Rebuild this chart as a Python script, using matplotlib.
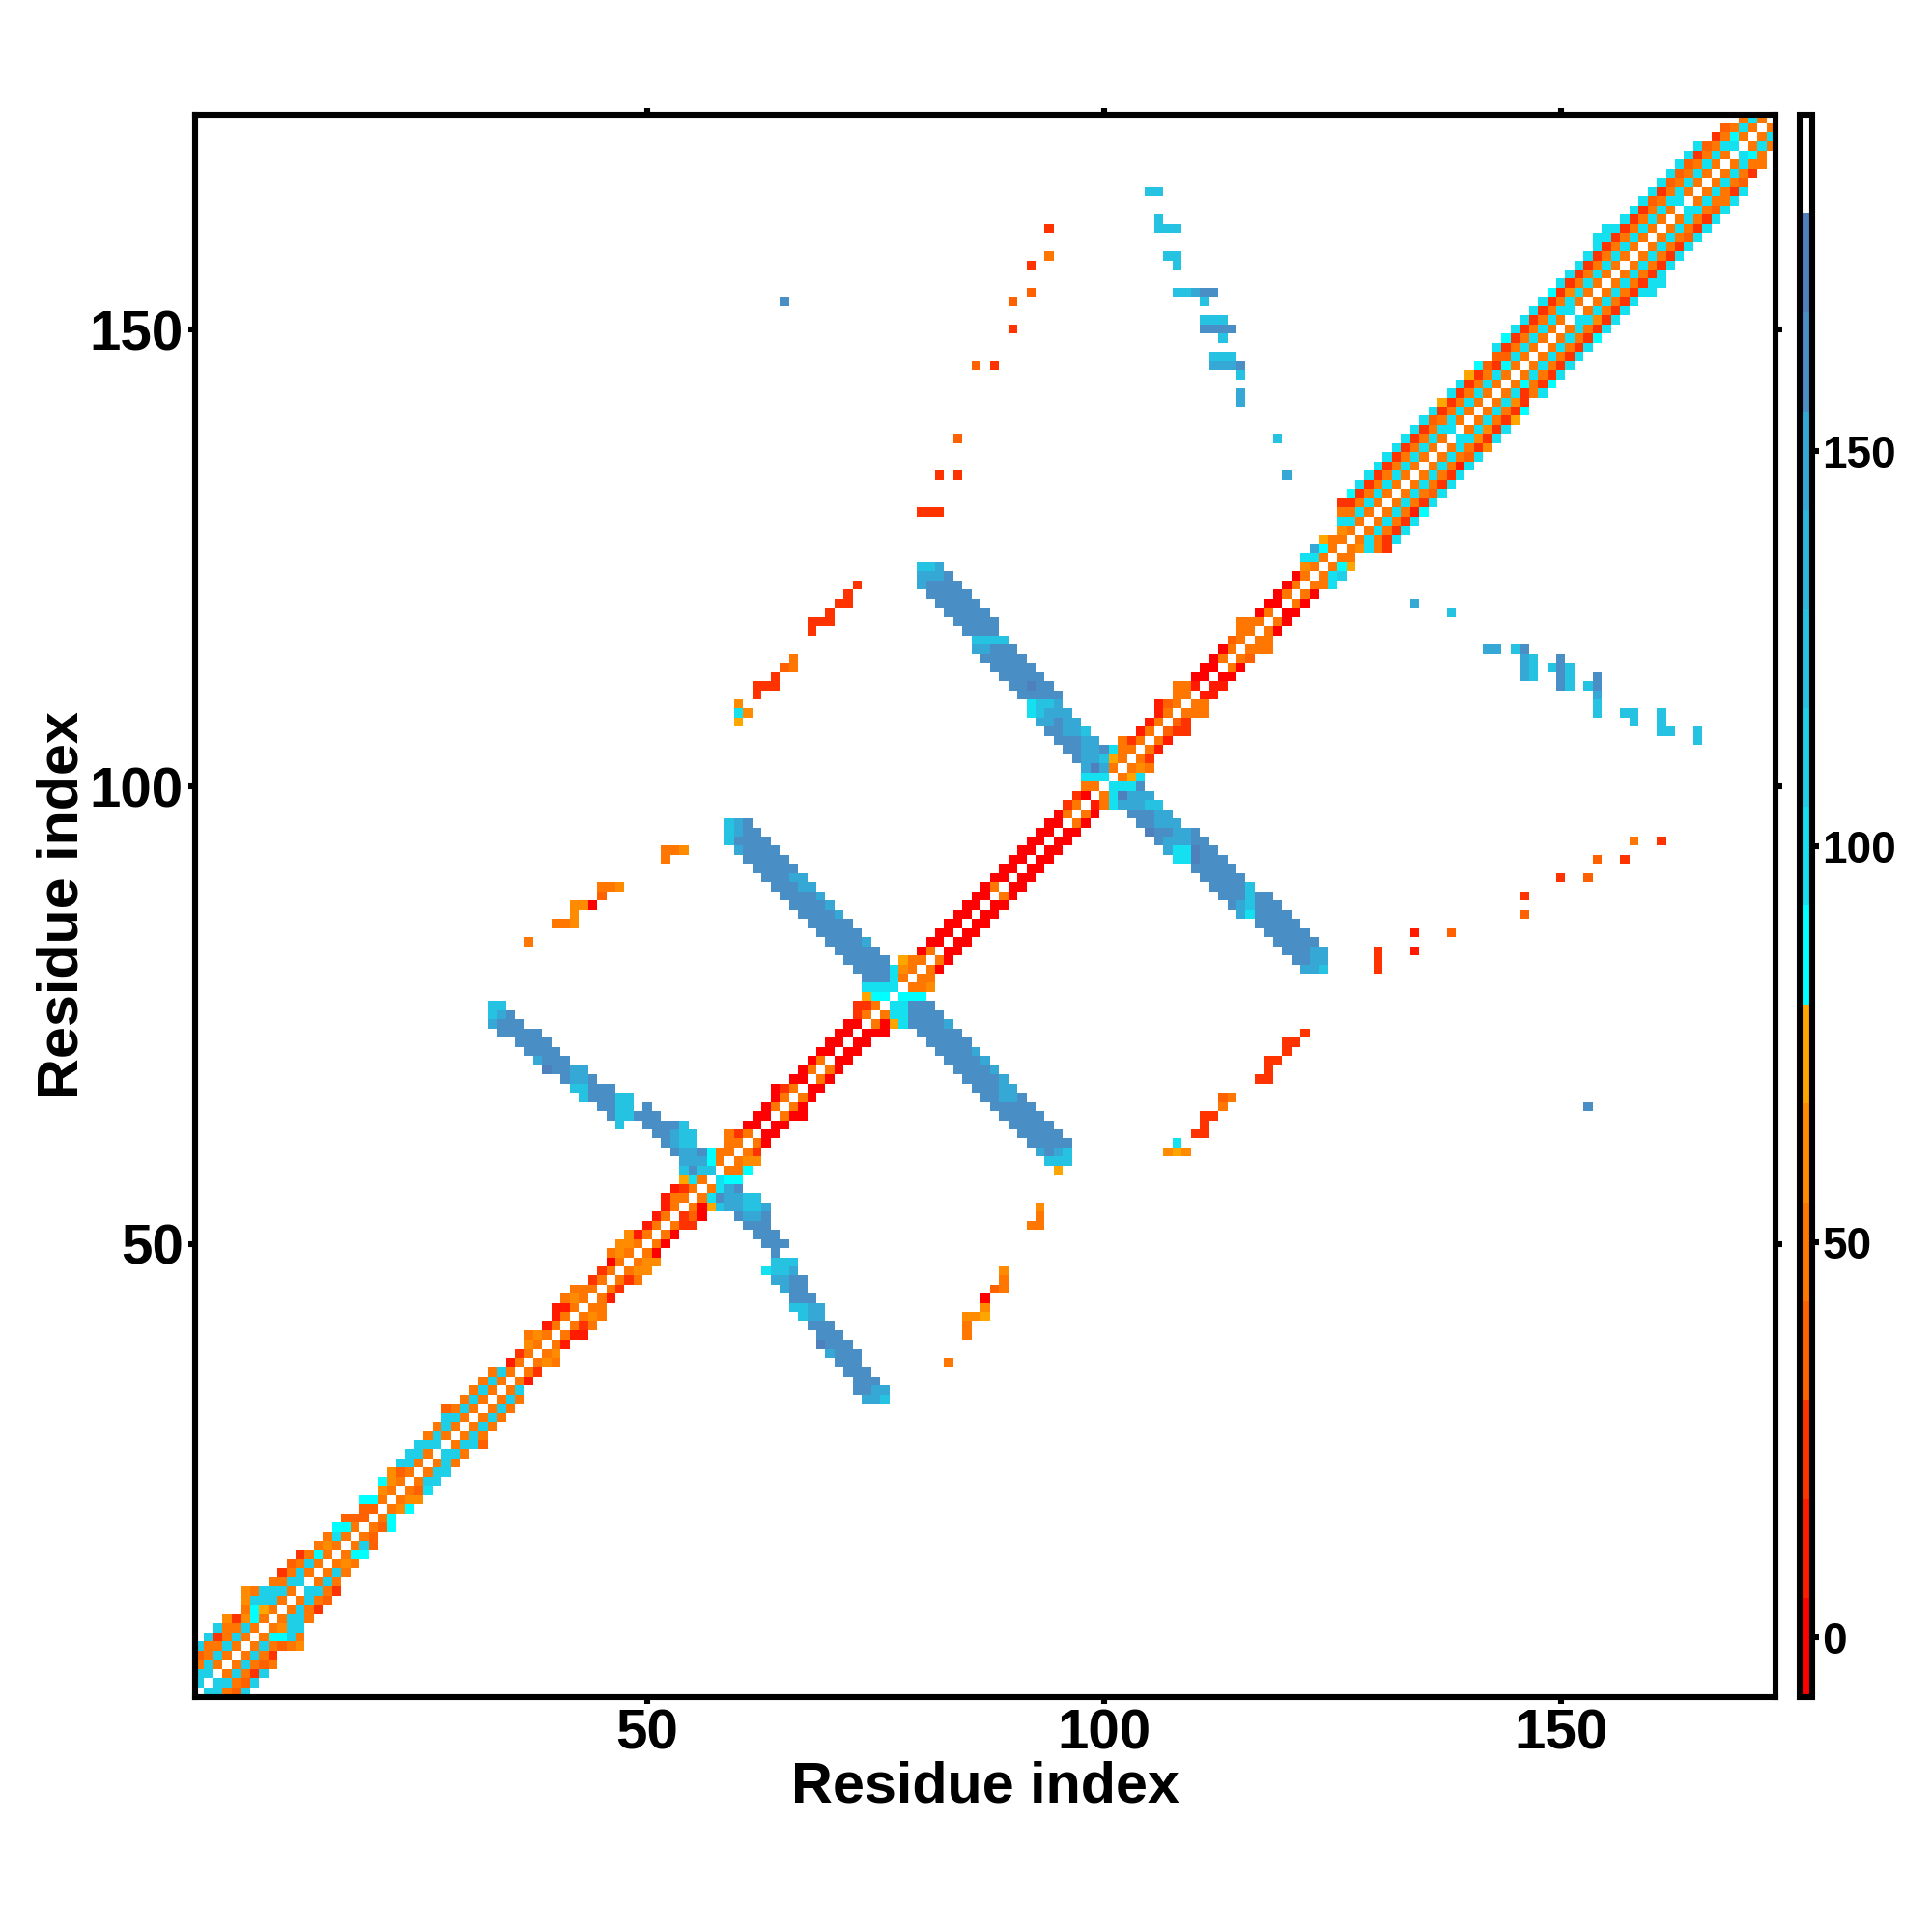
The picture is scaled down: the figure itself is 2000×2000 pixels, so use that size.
import numpy as np
import matplotlib
matplotlib.use("Agg")
import matplotlib.pyplot as plt
from matplotlib.colors import ListedColormap, BoundaryNorm
from matplotlib.cm import ScalarMappable

plt.rcParams['font.family'] = ['Liberation Sans', 'DejaVu Sans']
plt.rcParams['font.weight'] = 'bold'

# value shorthands read against the colour bar
R, r, s, o, a, m, y = 0, 10, 25, 35, 50, 60, 75
c, C, D, k, l, b, d, W = 85, 98, 110, 125, 148, 160, 172, 186

n_res = 173
bar_edges = [-7.5, 5, 17.5, 30, 42.5, 55, 67.5, 80, 92.5, 105, 117.5, 130, 142.5, 155, 167.5, 180, 192.5]
bar_colors = ['#ff0000', '#ff1a00', '#ff3300', '#ff6000', '#ff7700', '#ff8c00', '#ffa500',
              '#00ffff', '#14e0f0', '#1fcfe8', '#26c2e2', '#2db5dc', '#35a8d5', '#4a8ec6', '#4e80be',
              '#ffffff']
ticks = [50, 100, 150]
bar_ticks = [0, 50, 100, 150]

# rows: (residue y, first residue x, values)
band_a = [
    (1, 1, [W, D, D, a, o, D]), (2, 1, [D, W, D, D, a, o, D]), (3, 1, [D, D, W, a, D, a, s, D]),
    (4, 1, [a, D, a, W, a, D, a, o, a]), (5, 1, [o, a, D, a, W, a, D, a, s]),
    (6, 1, [D, a, a, D, a, W, a, D, a, o, a, m]), (7, 2, [D, s, a, D, a, W, a, c, c, D, a]),
    (8, 3, [D, a, a, D, a, W, a, m, D, D]), (9, 4, [m, s, m, c, a, W, a, D, D, a]),
    (10, 6, [a, c, y, a, W, a, D, a, s]), (11, 6, [m, D, D, D, a, W, a, D, a, o]),
    (12, 6, [m, a, D, D, D, a, W, D, D, a, s]), (13, 9, [a, a, D, D, W, a, D, a]),
    (14, 10, [s, a, D, a, W, a, D, a]), (15, 11, [o, a, D, a, W, a, m, a]),
    (16, 12, [s, a, c, a, W, a, c, c]), (17, 14, [a, m, a, W, a, D, o]),
    (18, 15, [a, C, a, W, a, o]), (19, 16, [c, c, a, W, a, o, c]), (20, 17, [o, o, o, W, a, c]),
    (21, 19, [o, o, W, a, m, c]), (22, 19, [c, c, a, W, a, m, m]), (23, 21, [m, a, W, a, o, C]),
    (24, 21, [c, m, a, W, a, D, D]), (25, 22, [m, o, a, W, a, D, D]), (26, 23, [D, D, a, W, a, D, a]),
    (27, 24, [D, D, a, W, D, D, a]), (28, 25, [D, D, D, W, a, D, D, o]), (29, 26, [a, D, a, W, a, D, a]),
    (30, 27, [a, D, a, W, a, D, a]), (31, 28, [D, D, a, W, a, D, a]), (32, 28, [o, a, D, a, W, a, D, a]),
    (33, 30, [a, D, a, W, a, D, a]), (34, 31, [a, D, a, W, a, D]), (35, 32, [a, D, a, W, a, r]),
    (36, 33, [a, D, a, W, a, s]), (37, 35, [r, a, W, a, m, a]), (38, 36, [s, a, W, a, m]),
    (39, 37, [m, a, W, a, r]), (40, 37, [a, m, a, W, a, r, r]), (41, 39, [r, a, W, a, s, a]),
    (42, 40, [r, a, W, a, m, a]), (43, 40, [r, r, a, W, a, a]), (44, 41, [a, m, a, W, a, r]),
    (45, 42, [a, a, a, W, a, s]), (46, 44, [s, a, W, a, s, a]), (47, 45, [s, a, W, a, m, m]),
]
band_b = [
    (48, 46, [R, a, W, a, m, m]), (49, 46, [a, m, a, W, a, R]), (50, 47, [m, m, a, W, a, R]),
    (51, 48, [m, r, a, W, a, R]), (52, 50, [r, a, W, a, s, s]), (53, 51, [r, a, W, s, o, R]),
    (54, 52, [r, a, W, a, R, y]), (55, 52, [r, a, a, W, a]), (56, 53, [r, s, a, W, a]),
    (57, 54, [y, C, a, W]), (58, 58, [W, a, a, c]), (59, 58, [a, W, a, m, m]),
    (60, 58, [a, a, W, a, s]), (61, 59, [a, a, W, a, R]), (62, 59, [a, s, a, W, R, R]),
    (63, 61, [R, R, W, R, R]), (64, 62, [R, R, W, a, R, R]), (65, 63, [R, a, W, a, R]),
    (66, 64, [R, a, W, a, R]), (67, 64, [R, s, a, W, R, R]), (68, 66, [R, R, W, a, R]),
    (69, 67, [R, a, W, a, R]), (70, 68, [R, a, W, R, R]), (71, 69, [R, R, W, R, R]),
    (72, 70, [R, R, W, R, R]), (73, 71, [R, R, W, R, R, R]), (74, 72, [R, R, W, a, R, y]),
    (75, 73, [s, a, W, a]), (76, 73, [s, s, a, W]), (77, 74, [y, c, c, W, c, c, c]),
    (78, 74, [C, C, C, C, W, a, a, m]), (79, 77, [C, a, W, a, a]), (80, 77, [C, m, a, W, a, R]),
    (81, 78, [y, a, a, W, a, R]), (82, 80, [R, a, W, R, R]), (83, 81, [R, R, W, R, R]),
    (84, 82, [R, R, W, R, R]), (85, 83, [R, R, W, R, R]), (86, 84, [R, R, W, R, R]),
    (87, 85, [R, R, W, R, R]), (88, 86, [R, R, W, a, R]), (89, 87, [R, a, W, R, R]),
    (90, 88, [R, R, W, R, R]), (91, 89, [R, R, W, R, R]), (92, 90, [R, R, W, R, R]),
    (93, 91, [R, R, W, R, R]), (94, 92, [R, R, W, R, R]), (95, 93, [R, R, W, R, R]),
    (96, 94, [R, R, W, a, R]),
]
band_c = [
    (97, 95, [R, a, W, a, R]), (98, 96, [s, a, W, r, a]), (99, 97, [s, R, W, a]), (100, 98, [a, a, W]),
    (101, 101, [W, a, y, C]), (102, 101, [a, W, a, m, a]), (103, 101, [y, a, W, a, s]),
    (104, 101, [C, a, a, W, a, r]), (105, 102, [a, s, a, W, a, r]), (106, 104, [r, a, W, o, s, s]),
    (107, 105, [r, a, W, o, s]), (108, 106, [r, a, W, a, a, a]), (109, 106, [r, o, a, W, a, a]),
    (110, 108, [a, a, W, r, r]), (111, 108, [a, a, r, W, r, r]), (112, 110, [R, R, W, R, R]),
    (113, 111, [R, R, W, a, R]), (114, 112, [R, a, W, a, o]), (115, 113, [R, a, W, a, a, a]),
    (116, 114, [o, a, W, a, a]), (117, 115, [a, a, W, a, R]), (118, 115, [a, a, a, W, a, R]),
    (119, 117, [R, a, W, R, R]), (120, 118, [R, R, W, a, R]), (121, 119, [R, a, W, a, R]),
    (122, 120, [R, a, W, a, a, C]), (123, 121, [R, a, W, a, C, D]), (124, 122, [m, a, W, a, c, y]),
    (125, 122, [C, C, a, W, a, a]), (126, 123, [l, c, a, W, a, m, C, a, s]),
    (127, 124, [y, a, a, W, a, C, a, s, C]), (128, 126, [m, a, W, a, C, a, s, C]),
    (129, 126, [C, C, a, W, a, C, a, s, C]), (130, 126, [a, a, C, a, W, a, C, a, r, c]),
]
band_d = [
    (131, 126, [s, s, a, C, a, W, a, C, a, s, C]), (132, 127, [c, s, a, C, a, W, a, C, a, o, C]),
    (133, 128, [C, s, a, C, a, W, a, C, a, s, C]), (134, 129, [C, s, a, C, a, W, a, C, a, s, C]),
    (135, 130, [C, s, a, C, a, W, a, C, a, r, C]), (136, 131, [C, s, a, C, a, W, a, C, a, o, C]),
    (137, 132, [C, s, a, C, a, W, a, C, a, s, m]), (138, 133, [C, s, a, C, a, W, C, C, m, s, C]),
    (139, 134, [C, s, a, C, C, W, a, C, m, s, C]), (140, 135, [C, o, a, C, a, W, a, C, a, s, y]),
    (141, 136, [C, s, a, C, a, W, a, C, a, s, c]), (142, 137, [y, s, a, C, a, W, a, C, m, s]),
    (143, 138, [C, s, a, C, a, W, a, C, s, a, C]), (144, 139, [C, s, a, C, a, W, a, c, a, s, c]),
    (145, 140, [y, s, a, C, a, W, a, C, a, s, C]), (146, 141, [c, o, s, c, a, W, a, C, a, s, C]),
    (147, 143, [o, o, C, a, W, a, C, a, s, C]), (148, 143, [C, s, a, C, a, W, a, C, a, s, C]),
    (149, 144, [c, s, a, C, a, W, a, C, a, s, c]), (150, 145, [C, s, a, C, a, W, a, C, a, s, C]),
    (151, 146, [C, s, a, C, a, W, C, C, m, s, C]), (152, 147, [C, s, a, C, C, W, a, C, a, s, C]),
    (153, 148, [C, s, a, C, a, W, a, C, a, s, C]), (154, 149, [c, s, m, C, a, W, a, C, a, s, C, C]),
    (155, 150, [C, s, a, C, a, W, a, C, a, s, C, C]), (156, 151, [C, s, a, C, a, W, a, C, a, s, C]),
    (157, 152, [C, s, a, C, a, W, a, C, a, s, C]), (158, 153, [C, s, a, C, a, W, a, C, a, s, C]),
    (159, 154, [C, s, a, C, a, W, a, C, a, s, C]), (160, 154, [C, C, s, a, C, a, W, a, C, a, o, C]),
    (161, 155, [C, C, s, a, C, a, W, a, C, a, s, C]), (162, 157, [C, s, a, C, a, W, a, C, a, s, C]),
    (163, 158, [C, s, a, C, a, W, C, C, a, o, C]), (164, 159, [C, o, a, C, C, W, a, C, a, a, C]),
    (165, 160, [C, s, a, C, a, W, a, C, a, s, C]), (166, 161, [C, o, a, C, a, W, a, C, a, o]),
    (167, 162, [C, o, a, C, a, W, a, C, a, s]), (168, 163, [C, o, a, C, a, W, a, C, a, a]),
    (169, 164, [C, s, a, C, a, W, C, c, a]), (170, 165, [C, o, a, C, C, W, a, C, a]),
    (171, 167, [s, a, c, a, W, a, C]), (172, 168, [o, a, C, a, W, a]), (173, 170, [a, C, a, W]),
]

strand_a = [
    (76, 33, [k, k]), (75, 33, [k, l, b]), (74, 33, [l, b, b, b]), (73, 34, [b, b, b, b, b]),
    (72, 36, [b, b, b, b]), (71, 37, [b, b, b, b]), (70, 38, [l, b, b, b]), (69, 39, [d, b, b, l, l]),
    (68, 41, [b, l, l, b]), (67, 42, [k, k, b, b, b]), (66, 43, [k, b, b, b, k, k]),
    (65, 45, [b, b, k, k]), (65, 50, [b]), (64, 46, [b, k, k, b, b, b]), (63, 47, [k]),
    (63, 50, [b, b, b, b, k]), (62, 51, [b, b, l, k, k]), (61, 52, [b, l, k, k]),
    (60, 53, [b, l, l, b, c]), (59, 54, [l, l, l, c]), (58, 54, [k, b, k, k]),
    (57, 58, [C, c, c]), (56, 58, [C, l, b]), (55, 57, [C, b, l, l, k, k]), (54, 58, [k, l, l, k, k, l]),
    (53, 60, [b, l, l, b]), (52, 61, [b, b, b]), (51, 62, [b, b, b]), (50, 63, [b, b, b]), (49, 64, [b]),
    (48, 64, [k, k, k]), (47, 63, [C, k, k, l]), (46, 64, [l, l, b, b]), (45, 65, [l, b, b]),
    (44, 66, [b, b, b]), (43, 66, [k, k, l, l]), (42, 67, [k, l, l]), (41, 68, [b, b, b]),
    (40, 69, [b, b, b]), (39, 69, [d, b, b, b]), (38, 70, [l, b, b, b]), (37, 71, [b, b, b]),
    (36, 72, [b, b, b]), (35, 73, [b, b, b]), (34, 73, [b, b, l, l]), (33, 74, [l, l, k]),
]
strand_b = [
    (96, 59, [k, l, b]), (95, 59, [k, l, b, b]), (94, 59, [k, b, b, b, b]), (93, 60, [l, b, b, b, b]),
    (92, 61, [b, b, b, b, b]), (91, 62, [b, b, b, b, b]), (90, 63, [b, b, b, l, l]), (89, 64, [b, b, b, l, l]),
    (88, 65, [b, b, b, b, l]), (87, 66, [b, b, b, b, l]), (86, 67, [b, b, b, b, l]), (85, 68, [b, b, b, b, b]),
    (84, 69, [b, b, b, b, b]), (83, 70, [b, b, b, b, l]), (82, 71, [b, b, b, b, b]), (81, 72, [b, b, b, b, b]),
    (80, 73, [b, b, b, b]), (79, 74, [b, b, b]),
    (76, 77, [C, C, b, b, b]), (75, 77, [C, C, b, b, b, b]), (74, 78, [C, b, b, b, b, l]),
    (73, 80, [b, b, b, b, b]), (72, 81, [b, b, b, b, b]), (71, 82, [b, b, b, b, l]), (70, 83, [b, b, b, b, l]),
    (69, 84, [b, b, b, b, l]), (68, 85, [b, b, b, b, l]), (67, 86, [b, b, b, l, l]), (66, 87, [b, b, l, l, b]),
    (65, 88, [b, b, b, b, b]), (64, 89, [b, b, b, b, b]), (63, 90, [b, b, b, b, b]), (62, 91, [b, b, b, b, b]),
    (61, 92, [b, b, b, b, b]), (60, 93, [l, b, l, k]), (59, 94, [k, k, k]), (58, 95, [y]),
]
strand_c = [
    (124, 80, [k, k, l]), (123, 80, [l, l, l, b]), (122, 80, [l, b, b, b, b]), (121, 81, [b, b, b, b, b]),
    (120, 82, [b, b, b, b, b]), (119, 83, [b, b, b, b, b]), (118, 84, [b, b, b, b, b]), (117, 85, [b, b, b, b]),
    (116, 86, [k, k, k, k]), (115, 86, [l, l, b, b, b]), (114, 87, [b, b, b, b, b]), (113, 88, [b, b, b, b, b]),
    (112, 89, [b, b, b, b, b]), (111, 90, [b, b, d, b, b]), (110, 91, [b, b, b, b, b]), (109, 92, [C, k, k, l]),
    (108, 92, [C, k, l, l, l]), (107, 93, [l, l, b, l, l]), (106, 94, [b, b, l, l, k]), (105, 95, [b, b, b, l, l]),
    (104, 96, [b, b, l, l, b, C]), (103, 97, [b, l, l, k]), (102, 98, [l, d, l]), (101, 98, [C, C, C]),
    (100, 101, [C, C, C, b]), (99, 101, [C, d, l, l, l]), (98, 101, [C, l, l, l, k, k]), (97, 103, [b, b, b, l, l]),
    (96, 104, [b, b, l, l, l]), (95, 105, [d, b, b, l, l, b]), (94, 106, [b, l, l, l, b, b]),
    (93, 107, [l, C, C, d, b, b]), (92, 108, [C, C, d, b, b, b]), (91, 110, [b, b, b, b, b]),
    (90, 111, [b, b, b, b, b]), (89, 112, [b, b, b, b, k]), (88, 113, [b, b, b, k, b, b]),
    (87, 114, [b, l, k, b, b, b]), (86, 115, [l, C, b, b, b, b]), (85, 117, [b, b, b, b, b]),
    (84, 118, [b, b, b, b, b]), (83, 119, [b, b, b, b, b]), (82, 120, [b, b, b, l, l]), (81, 121, [b, b, l, l]),
    (80, 122, [l, l, k]),
]

# isolated contacts: (x, y, value)
sparse_low = [
    (37, 83, a), (40, 85, a), (41, 85, a), (42, 85, m), (42, 86, m), (42, 87, m), (43, 87, m), (44, 87, R),
    (45, 88, o), (45, 89, a), (46, 89, a), (47, 89, m), (52, 92, a), (52, 93, a), (53, 93, a), (54, 93, m),
    (83, 37, a), (85, 40, a), (85, 41, a), (85, 42, m), (86, 42, m), (87, 42, y), (87, 43, m), (87, 44, R),
    (88, 45, o), (89, 45, a), (89, 46, a), (89, 47, m), (92, 52, a), (93, 52, a), (93, 53, a), (93, 54, m),
]
sparse_mid = [
    (60, 107, y), (60, 108, C), (61, 108, m), (60, 109, m), (62, 110, s), (62, 111, s), (63, 111, s), (64, 111, s),
    (64, 112, s), (65, 113, o), (66, 113, a), (66, 114, a), (68, 117, s), (68, 118, s), (69, 118, s), (70, 118, s),
    (70, 119, s), (71, 120, s), (72, 120, s), (72, 121, s), (73, 122, s),
    (107, 60, m), (108, 60, y), (109, 60, m), (108, 61, C), (110, 62, s), (111, 62, s), (111, 63, s), (111, 64, s),
    (112, 64, s), (113, 65, a), (113, 66, o), (114, 66, a), (117, 68, s), (118, 68, s), (118, 69, s), (118, 70, s),
    (119, 70, s), (120, 71, s), (120, 72, s), (121, 72, s), (122, 73, s),
]
sparse_far = [
    (130, 80, s), (130, 81, s), (130, 82, s), (134, 82, r), (134, 84, r), (138, 84, o), (146, 86, o), (146, 88, s),
    (150, 90, s), (153, 90, o), (154, 92, o), (157, 92, s), (158, 94, a), (161, 94, s),
    (80, 130, s), (81, 130, s), (82, 130, s), (82, 134, s), (84, 134, s), (84, 138, o), (86, 146, o), (88, 146, s),
    (90, 150, s), (90, 153, o), (92, 154, o), (92, 157, s), (94, 158, a), (94, 161, s),
    (65, 153, b), (153, 65, b),
]
sparse_top = [
    (105, 165, k), (106, 165, k), (106, 162, k), (106, 161, k), (107, 161, k), (108, 161, k), (107, 158, k),
    (108, 158, k), (108, 157, k), (108, 154, k), (109, 154, k), (110, 154, l), (111, 154, b), (112, 154, b),
    (111, 153, k), (111, 151, k), (112, 151, k), (113, 151, k), (111, 150, b), (112, 150, b), (113, 150, b),
    (114, 150, b), (113, 149, k), (112, 147, k), (113, 147, k), (114, 147, k), (112, 146, l), (113, 146, l),
    (114, 146, l), (115, 146, b), (115, 145, k), (115, 143, l), (115, 142, l), (119, 138, k), (120, 134, l),
]
sparse_right = [
    (134, 120, l), (138, 119, k), (142, 115, l), (143, 115, l), (145, 115, k), (146, 115, b), (146, 114, l),
    (146, 113, l), (146, 112, l), (147, 114, k), (147, 113, k), (147, 112, k), (149, 113, k), (150, 114, b),
    (150, 113, b), (150, 112, b), (150, 111, b), (151, 113, k), (151, 112, k), (151, 111, k), (153, 111, k),
    (154, 112, b), (154, 111, b), (154, 110, l), (154, 109, k), (154, 108, k), (157, 108, k), (158, 108, k),
    (158, 107, k), (161, 108, k), (161, 107, k), (161, 106, k), (162, 106, k), (165, 106, k), (165, 105, k),
]

# build the map
grid = np.full((n_res, n_res), np.nan)
for rows in (band_a, band_b, band_c, band_d, strand_a, strand_b, strand_c):
    for yi, x0, vals in rows:
        for i, v in enumerate(vals):
            grid[yi - 1, x0 - 1 + i] = v
for pts in (sparse_low, sparse_mid, sparse_far, sparse_top, sparse_right):
    for xi, yi, v in pts:
        grid[yi - 1, xi - 1] = v

cmap = ListedColormap(bar_colors)
cmap.set_bad('white')
norm = BoundaryNorm(bar_edges, cmap.N)

fig = plt.figure(figsize=(10, 10), dpi=200)
ax = fig.add_axes([202 / 2000, 1 - 1756.5 / 2000, 1636 / 2000, 1638 / 2000])
ax.imshow(grid, origin='lower', cmap=cmap, norm=norm, interpolation='nearest', aspect='auto',
          extent=[0.5, n_res + 0.5, 0.5, n_res + 0.5])
ax.set_xticks(ticks)
ax.set_yticks(ticks)
ax.tick_params(axis='both', which='major', direction='out', length=2.4, width=2.2, top=True, right=True,
               labelsize=21, pad=2)
for sp in ax.spines.values():
    sp.set_linewidth(2.2)
ax.set_xlabel('Residue index', fontsize=21.4, fontweight='bold', labelpad=0)
ax.set_ylabel('Residue index', fontsize=21.4, fontweight='bold', labelpad=0)

cax = fig.add_axes([1862.5 / 2000, 1 - 1756.5 / 2000, 13 / 2000, 1638 / 2000])
cb = fig.colorbar(ScalarMappable(norm=norm, cmap=cmap), cax=cax, spacing='proportional', ticks=bar_ticks)
cb.minorticks_off()
cb.outline.set_linewidth(2.2)
cb.ax.tick_params(direction='out', length=2.4, width=2.2, labelsize=16.5, pad=1.5)
cb.ax.set_yticklabels([str(t) for t in bar_ticks], fontweight='bold')

fig.savefig('out.png', dpi=200)
